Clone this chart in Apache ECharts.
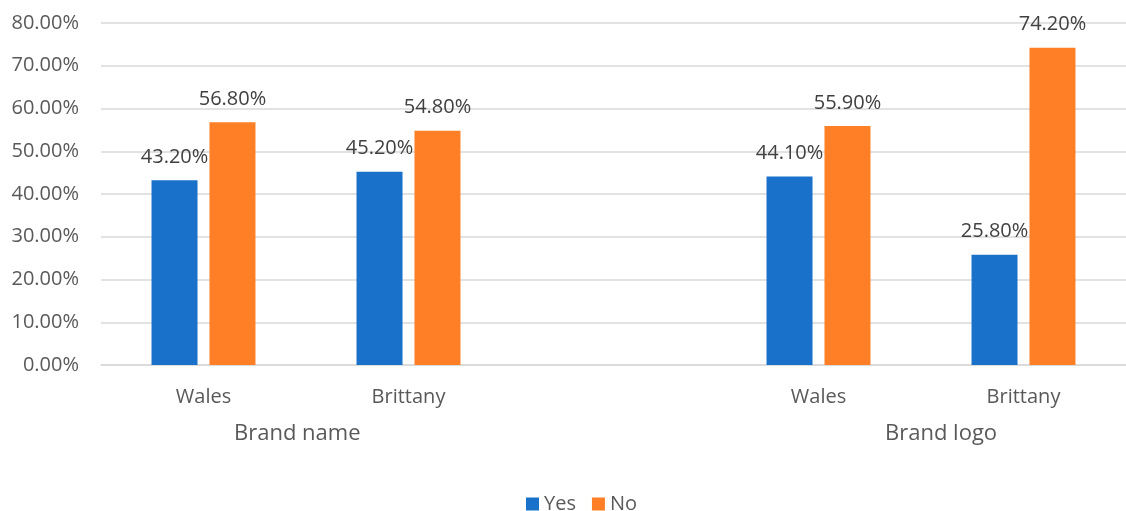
<!DOCTYPE html>
<html>
<head>
<meta charset="utf-8">
<script src="https://cdn.jsdelivr.net/npm/echarts@6/dist/echarts.min.js"></script>
<style>html,body{margin:0;padding:0;background:#fff}#c{width:1126px;height:511px}</style>
</head>
<body>
<div id="c"></div>
<script>
const categories = ['Wales', 'Brittany', '', 'Wales', 'Brittany'];
const groups = ['Brand name', 'Brand logo'];
const yesValues = [43.2, 45.2, null, 44.1, 25.8];
const noValues = [56.8, 54.8, null, 55.9, 74.2];
const seriesNames = ['Yes', 'No'];

const FONT = '"Open Sans", "Noto Sans", sans-serif';
const TXT = '#595959';
const chart = echarts.init(document.getElementById('c'));
const labelCfg = {
  show: true, position: 'top', distance: 13,
  color: '#404040', fontSize: 20, fontFamily: FONT,
  formatter: p => p.value == null ? '' : p.value.toFixed(2) + '%'
};
chart.setOption({
  animation: false,
  textStyle: { fontFamily: FONT },
  grid: { left: 101, width: 1030, top: 23, height: 342 },
  legend: {
    top: 489, left: 521, itemWidth: 13, itemHeight: 13, itemGap: 16,
    icon: 'rect', textStyle: { color: TXT, fontSize: 20, fontFamily: FONT },
    data: seriesNames
  },
  xAxis: {
    type: 'category', data: categories,
    axisLine: { lineStyle: { color: '#d9d9d9', width: 1.5 } },
    axisTick: { show: false },
    axisLabel: { color: TXT, fontSize: 20, fontFamily: FONT, margin: 22 }
  },
  yAxis: {
    type: 'value', min: 0, max: 80, interval: 10,
    axisLine: { show: false }, axisTick: { show: false },
    splitLine: { lineStyle: { color: '#d9d9d9', width: 1.5 } },
    axisLabel: { color: TXT, fontSize: 20, fontFamily: FONT, margin: 22,
      formatter: v => v.toFixed(2) + '%' }
  },
  graphic: [
    { type: 'text', left: 234, top: 423, style: { text: groups[0], fill: TXT, fontSize: 22, fontFamily: FONT } },
    { type: 'text', left: 885, top: 423, style: { text: groups[1], fill: TXT, fontSize: 22, fontFamily: FONT } }
  ],
  series: [
    { name: seriesNames[0], type: 'bar', data: yesValues, barWidth: 46, barGap: '26%',
      itemStyle: { color: '#1a71c9' }, label: labelCfg },
    { name: seriesNames[1], type: 'bar', data: noValues, barWidth: 46,
      itemStyle: { color: '#ff7f27' }, label: labelCfg }
  ]
});
</script>
</body>
</html>
